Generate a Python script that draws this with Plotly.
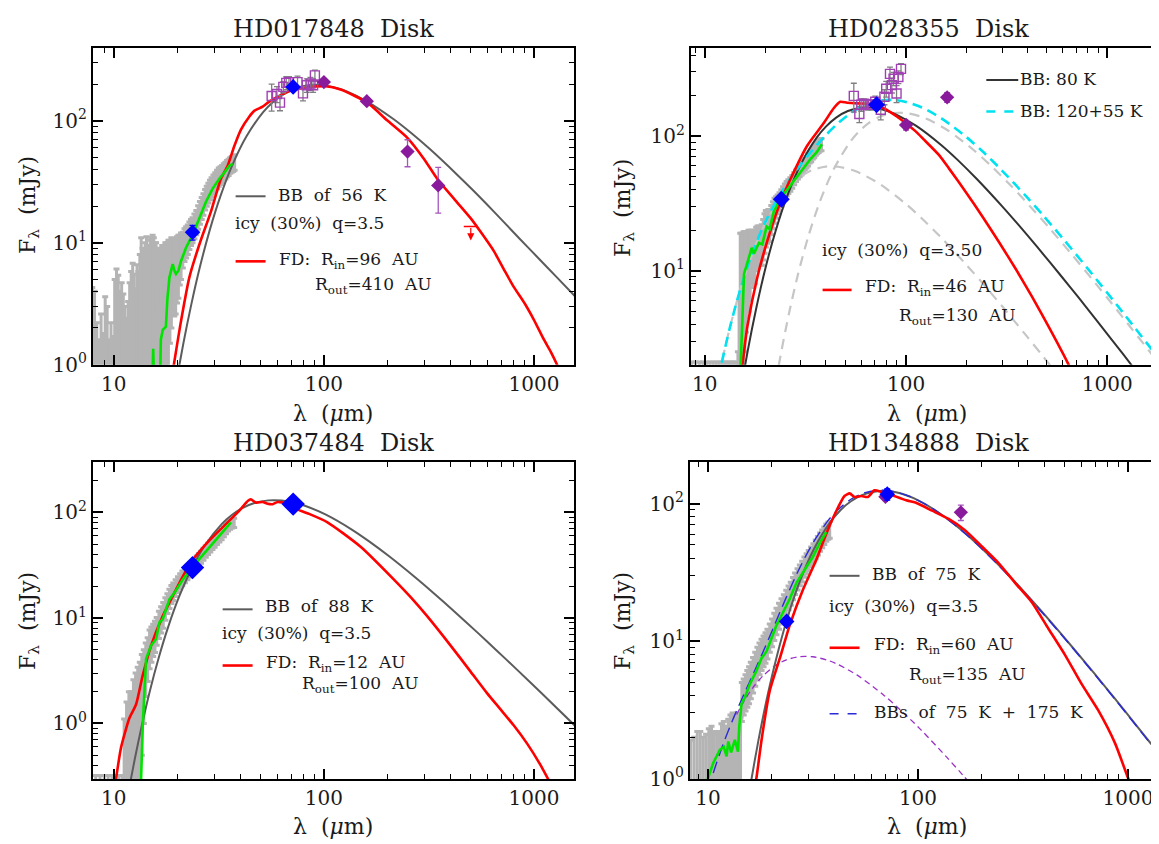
import numpy as np
import plotly.graph_objects as go

W, H = 1159, 844
FONT = "DejaVu Serif"
TXT = "#1a1a1a"

# ======================= DATA =======================
# ---------- HD017848 ----------
p1_irs_lam = [7.9, 8.1, 8.3, 8.5, 8.7, 8.9, 9.1, 9.3, 9.5, 9.7, 9.9, 10.1, 10.3, 10.5, 10.7, 10.9, 11.1, 11.3, 11.5, 11.7,
              11.9, 12.1, 12.3, 12.5, 12.7, 12.9, 13.1, 13.3, 13.5, 13.7, 13.9, 14.1, 14.3, 14.5, 14.7, 14.9, 15.1, 15.3, 15.5, 15.7, 15.9,
              16.1, 16.4, 16.7, 17.0, 17.3, 17.6, 17.9, 18.2, 18.5, 18.8, 19.1, 19.4, 19.7, 20.0, 20.3, 20.6, 20.9, 21.3, 21.7, 22.1,
              22.5, 22.9, 23.3, 23.7, 24.2, 24.7, 25.2, 25.7, 26.2, 26.7, 27.2, 27.7, 28.2, 28.7, 29.2, 29.8, 30.4, 31.0, 31.6, 32.2,
              32.8, 33.4, 34.0, 34.6, 35.2, 35.8, 36.4, 37.0, 37.6]
p1_irs_flux = [0.6, 0.6, 0.6, 0.6, 0.6, 0.6, 0.6, 0.6, 0.6, 0.6, 0.6, 0.6, 0.6, 0.6, 0.6, 0.6, 0.6, 0.6, 0.6, 0.6,
               0.6, 0.6, 0.6, 0.6, 0.6, 0.6, 0.6, 0.6, 0.6, 0.6, 0.6, 0.6, 0.6, 0.6, 0.6, 0.6, 0.6, 0.6, 0.6, 0.6, 0.6,
               3.0, 3.5, 3.8, 4.0, 4.2, 4.5, 5.0, 5.5, 6.0, 6.5, 6.8, 6.5, 6.6, 7.2, 7.5, 8.0, 8.5, 9.2, 10.0, 10.5,
               11.0, 11.8, 12.5, 13.0, 14.0, 15.0, 16.5, 18.0, 19.5, 21.0, 23.0, 24.5, 26.0, 27.5, 29.0, 30.5, 32.0, 33.5, 35.0, 36.0,
               37.0, 38.5, 39.5, 41.0, 42.0, 43.5, 44.5, 45.0, 46.0]
p1_irs_err = [3.7, 3.4, 1.6, 1.0, 2.0, 1.2, 3.0, 2.4, 1.0, 1.6, 1.1, 4.4, 5.5, 4.8, 3.4, 4.1, 3.2, 2.4, 1.8, 2.7,
              4.1, 5.2, 6.2, 4.9, 3.6, 6.0, 5.2, 7.4, 10.4, 8.4, 6.9, 9.4, 10.6, 8.9, 7.4, 9.9, 10.4, 10.9, 10.4, 9.4, 9.4,
              5.5, 5.5, 5.0, 5.5, 5.0, 5.5, 5.0, 5.0, 4.5, 4.5, 4.0, 4.0, 4.0, 4.0, 4.0, 3.5, 3.5, 3.0, 3.0, 3.0,
              3.0, 3.0, 3.0, 3.0, 3.2, 3.4, 3.6, 3.8, 4.0, 4.2, 4.4, 4.6, 4.8, 5.0, 5.2, 5.4, 5.6, 5.8, 6.0, 6.0,
              6.0, 6.0, 6.2, 6.2, 6.4, 6.4, 6.6, 6.6, 6.6]
p1_green_lam = [15.25, 15.4, 15.55, 16.6, 16.75, 17.1, 17.7, 18.0, 18.4, 19.07, 19.5, 19.78, 20.3, 20.9, 22.07, 23.74, 25.54,
                27.46, 29.54, 31.8, 34.2, 35.5, 36.8]
p1_green_flux = [0.7, 1.35, 0.7, 0.7, 1.6, 1.93, 2.05, 3.5, 5.2, 6.67, 5.8, 5.53, 5.89, 7.08, 9.1, 11.65, 15.9,
                 21.7, 27.8, 33.5, 39.1, 42.9, 44.3]
p1_bb_lam = [18.35, 19.76, 21.41, 23.36, 25.69, 28.55, 32.12, 36.70, 42.82, 51.39, 57.10, 64.23, 73.41, 85.64, 98.82, 116.8,
             128.5, 160.6, 214.1, 256.9, 321.2, 428.2, 513.9, 642.3, 856.4, 1027.7, 1284.7, 1712.9]
p1_bb_flux = [0.317, 0.690, 1.476, 3.09, 6.31, 12.51, 23.88, 43.5, 74.6, 117.9, 142.3, 166.0, 185.6, 196.6, 196.0, 184.4,
              174.0, 144.0, 103.5, 80.9, 58.1, 36.5, 26.8, 18.09, 10.73, 7.75, 5.2, 3.1]
p1_fd_lam = [19.0, 19.29, 20.67, 22.89, 25.54, 29.0, 32.36, 34.83, 37.47, 40.3, 44.2, 46.6, 51.1, 55.0, 61.3, 70.9, 82.0, 102.0,
             120.0, 161.0, 200.0, 249.6, 300.0, 346.0, 420.0, 499.0, 570.0, 644.0, 720.0, 802.0, 900.0, 1000.0, 1115.0, 1200.0,
             1289.0, 1350.0]
p1_fd_flux = [0.85, 0.986, 2.05, 5.2, 9.67, 18.0, 33.5, 42.9, 62.2, 84.8, 108.7, 120.8, 131.0, 144.0, 160.0, 179.0, 187.5, 192.5,
              181.0, 141.0, 101.0, 72.6, 48.5, 33.5, 22.5, 15.9, 11.6, 8.53, 6.0, 4.32, 3.2, 2.32, 1.6, 1.28, 0.99, 0.8]
p1_pacs_lam = [56.4, 59.8, 61.8, 64.1, 66.2, 68.2, 74.9, 79.5, 82.9, 86.3, 88.8, 90.6]
p1_pacs_flux = [160, 166, 141, 190, 205, 208, 208, 168, 196, 202, 196, 236]
p1_pacs_err = [40, 25, 20, 20, 25, 22, 25, 22, 25, 25, 25, 25]
p1_mips_lam = [23.7, 71.4]
p1_mips_flux = [12.2, 190]
p1_mips_err = [1.7, 10]
p1_phot_lam = [100, 160, 250, 350]
p1_phot_flux = [208, 145, 56, 29.5]
p1_phot_err = [8, 7, 14, 12]
p1_ul_lam = [500]
p1_ul_flux = [13.6]

# ---------- HD028355 ----------
p2_irs_lam = [8.6, 9.0, 9.4, 9.8, 10.2, 10.6, 11.0, 11.4, 11.8, 12.2, 12.6, 13.0, 13.4, 13.8, 14.2,
              14.6, 14.8, 15.0, 15.2, 15.4, 15.6, 15.8, 16.0, 16.2, 16.5, 16.8, 17.1, 17.4, 17.7, 18.0, 18.3, 18.6, 18.9, 19.2, 19.5,
              19.8, 20.1, 20.4, 20.7, 21.0, 21.4, 21.8, 22.2, 22.6, 23.0, 23.5, 24.0, 24.5, 25.0, 25.5, 26.0, 26.6, 27.2, 27.8, 28.4,
              29.0, 29.6, 30.2, 30.8, 31.4, 32.0, 32.6, 33.2, 33.8, 34.4, 35.0, 35.6, 36.2, 36.8, 37.4, 38.0]
p2_irs_flux = [1.0, 1.0, 1.0, 1.0, 1.0, 1.0, 1.0, 1.0, 1.0, 1.0, 1.0, 1.0, 1.0, 1.0, 1.0,
               1.5, 3, 8, 9, 9.5, 10, 11, 11.5, 12, 12.5, 13, 14, 13.5, 14, 15.5, 16, 16.5, 16, 16.5, 18,
               20, 21.5, 22, 22.5, 22.5, 24.5, 26.5, 28.5, 30, 31.5, 33, 35, 37, 39, 41, 42.5, 44, 46, 48.5, 51,
               53, 55, 57, 59.5, 62, 64.5, 67, 70, 72, 75, 77, 80, 82, 84, 86, 87]
p2_irs_err = [1.1, 1.1, 1.1, 1.1, 1.1, 1.1, 1.1, 1.1, 1.1, 1.1, 1.1, 1.1, 1.1, 1.1, 1.1,
              1.0, 3, 11, 10, 9.5, 9.5, 8.5, 8, 7.5, 7.5, 7, 6, 6, 6, 5.5, 5.5, 5, 5, 5.5, 6,
              6.5, 6.5, 6, 6, 6, 6, 6, 6, 5.5, 5, 5, 5, 5, 5, 5, 5, 5, 5, 5, 5,
              5, 5, 5.5, 6, 6, 6.5, 7, 7, 7.5, 7.5, 8, 8, 8, 8.5, 8.5, 9]
p2_green_lam = [14.9, 15.07, 15.37, 15.66, 16.56, 17.09, 17.54, 18.57, 19.3, 20.28, 21.0, 22.0, 23.8, 26.7, 29.9, 33.5, 36.0, 38.2]
p2_green_flux = [1.5, 2.0, 4.3, 9.46, 12.5, 14.8, 13.4, 16.1, 15.7, 21.3, 20.4, 27.5, 34.4, 43.1, 53.9, 67.5, 76.0, 87.0]
p2_bb80_lam = [12.85, 13.83, 14.99, 16.35, 17.99, 19.98, 22.48, 25.69, 29.98, 35.97, 39.97, 44.96, 51.39, 59.95, 69.17, 81.75,
               89.93, 112.4, 149.9, 179.85, 224.8, 299.8, 359.7, 449.6, 599.5, 719.4, 899.3, 1199.0, 1798.5]
p2_bb80_flux = [0.262, 0.571, 1.221, 2.556, 5.22, 10.35, 19.76, 36.0, 61.7, 97.5, 117.7, 137.3, 153.5, 162.7, 162.2, 152.6,
                144.0, 119.2, 85.65, 66.9, 48.0, 30.2, 22.16, 14.96, 8.87, 6.33, 4.155, 2.398, 1.093]
p2_bb55_lam = [21.8, 23.78, 26.16, 29.07, 32.70, 37.37, 43.6, 52.32, 58.13, 65.4, 74.74, 87.2, 100.6, 118.9, 130.8, 163.5,
               218.0, 261.6, 327.0, 436.0, 523.2, 654.0, 872.0, 1046.0, 1308.0, 1744.0, 2616.0]
p2_bb55_flux = [1.115, 2.334, 4.767, 9.448, 18.04, 32.87, 56.36, 89.04, 107.5, 125.4, 140.2, 148.5, 148.1, 139.3, 131.5, 108.8,
                78.2, 61.1, 43.87, 27.59, 20.23, 13.66, 8.10, 5.78, 3.79, 2.19, 1.0]
p2_bb120_lam = [10.9, 11.99, 13.32, 14.99, 17.13, 19.98, 23.98, 26.64, 29.98, 34.26, 39.97, 46.12, 54.5, 59.95, 74.94, 99.92,
                119.9, 149.9, 199.8, 239.8, 299.8, 399.7, 479.6, 599.5]
p2_bb120_flux = [0.934, 1.907, 3.779, 7.216, 13.15, 22.54, 35.61, 43.0, 50.15, 56.07, 59.42, 59.23, 55.73, 52.59, 43.52, 31.28,
                 24.44, 17.55, 11.03, 8.09, 5.465, 3.241, 2.311, 1.517]
p2_bbsum_lam = [10.9, 11.99, 13.32, 14.99, 17.13, 19.98, 23.98, 26.64, 29.98, 34.26, 39.97, 46.12, 54.5, 59.95, 74.94, 87.0,
                99.92, 119.9, 149.9, 199.8, 239.8, 299.8, 399.7, 479.6, 599.5, 799.5, 1199.0, 1799.0, 2398.0]
p2_bbsum_flux = [0.934, 1.907, 3.781, 7.23, 13.24, 23.03, 38.1, 48.4, 61.5, 78.65, 101.8, 125.4, 152.0, 165.1, 183.9, 185.5,
                 179.5, 163.2, 135.6, 98.2, 77.1, 55.5, 35.1, 25.8, 17.47, 10.38, 4.87, 2.24, 1.285]
p2_fd_lam = [15.0, 15.37, 16.27, 18.24, 20.43, 23.8, 26.7, 32.2, 39.0, 43.7, 47.1, 50.9, 57.1, 65.0, 72.0, 77.3, 90.0, 100.0,
             112.0, 122.0, 147.0, 164.0, 198.0, 240.0, 290.0, 351.0, 424.0, 512.0, 638.0, 700.0]
p2_fd_flux = [1.6, 2.0, 3.85, 8.95, 16.6, 32.5, 48.2, 84.5, 125.0, 161.0, 180.0, 177.0, 175.0, 174.0, 168.0, 161.0, 140.0, 124.0,
              108.0, 95.0, 71.4, 57.1, 38.5, 25.2, 16.3, 10.3, 6.37, 3.83, 2.05, 1.5]
p2_pacs_lam = [55.0, 58.6, 59.9, 61.9, 64.5, 67.3, 70.3, 74.9, 78.1, 79.7, 83.2, 85.0, 86.7, 89.7, 91.6, 94.4]
p2_pacs_flux = [199, 146, 171, 174, 171, 171, 180, 157, 196, 225, 290, 239, 267, 207, 275, 316]
p2_pacs_err = [48, 20, 18, 15, 15, 15, 18, 25, 25, 30, 35, 30, 30, 30, 30, 30]
p2_mips_lam = [24.0, 71.4]
p2_mips_flux = [34.0, 171]
p2_mips_err = [2, 8]
p2_phot_lam = [100, 160]
p2_phot_flux = [121, 194]
p2_phot_err = [10, 16]

# ---------- HD037484 ----------
p3_irs_lam = [8.2, 8.6, 9.0, 9.4, 9.8, 10.2, 10.6, 11.0,
              11.2, 11.5, 11.8, 12.1, 12.4, 12.7, 13.0, 13.3, 13.6, 13.9, 14.2, 14.5, 14.8, 15.1, 15.4, 15.7, 16.0, 16.4, 16.8, 17.2,
              17.6, 18.0, 18.4, 18.8, 19.2, 19.7, 20.2, 20.7, 21.2, 21.8, 22.4, 23.0, 23.6, 24.2, 24.8, 25.4, 26.0, 26.7, 27.4, 28.1,
              28.8, 29.5, 30.2, 31.0, 31.8, 32.6, 33.4, 34.2, 35.0, 35.8, 36.6, 37.4]
p3_irs_flux = [0.15, 0.15, 0.15, 0.15, 0.15, 0.15, 0.15, 0.15,
               0.5, 0.7, 0.9, 1.0, 1.2, 1.4, 1.6, 1.8, 2.5, 3.0, 3.8, 4.5, 5.5, 6.0, 6.5, 7.0, 7.8, 9.0, 10.0, 11.0,
               12.5, 14.0, 15.5, 17.0, 18.0, 19.5, 21.0, 22.5, 24.0, 25.5, 27.0, 28.5, 30.0, 32.0, 34.0, 36.0, 38.0, 40.5, 43.0, 45.5,
               48.0, 50.5, 53.0, 56.0, 59.0, 62.0, 66.0, 70.0, 74.0, 77.0, 79.0, 80.0]
p3_irs_err = [0.17, 0.17, 0.17, 0.17, 0.17, 0.17, 0.17, 0.17,
              0.6, 0.9, 1.1, 1.0, 1.4, 1.6, 1.8, 2.0, 2.0, 2.0, 2.0, 2.0, 2.2, 2.2, 2.2, 2.3, 2.3, 2.6, 2.8, 3.0,
              3.0, 3.0, 3.2, 3.3, 3.4, 3.5, 3.6, 3.7, 3.8, 3.9, 4.0, 4.1, 4.2, 4.4, 4.6, 4.8, 5.0, 5.2, 5.4, 5.6,
              5.8, 6.0, 6.2, 6.4, 6.6, 6.8, 7.0, 7.2, 7.4, 7.6, 7.8, 8.0]
p3_green_lam = [13.4, 13.49, 13.74, 14.0, 14.25, 15.05, 15.9, 16.49, 17.1, 18.39, 19.43, 21.28, 23.74, 26.5, 29.54, 32.96, 36.1]
p3_green_flux = [0.25, 0.3, 0.98, 2.0, 4.11, 5.47, 6.32, 9.06, 9.72, 15.0, 17.3, 23.0, 30.6, 39.4, 50.7, 65.0, 80.7]
p3_bb_lam = [10.9, 11.68, 12.58, 13.63, 14.86, 16.35, 18.17, 20.44, 23.36, 27.25, 32.7, 36.33, 40.88, 46.71, 54.5, 62.88,
             74.32, 81.75, 102.2, 136.3, 163.5, 204.4, 272.5, 327.0, 408.8, 545.0, 654.0, 817.5, 1090.0, 1635.0]
p3_bb_flux = [0.095, 0.21, 0.457, 0.977, 2.045, 4.177, 8.278, 15.81, 28.8, 49.38, 78.01, 94.18, 109.9, 122.8, 130.2, 129.7,
              122.1, 115.2, 95.3, 68.5, 53.5, 38.4, 24.17, 17.73, 11.97, 7.10, 5.06, 3.324, 1.919, 0.875]
p3_fd_lam = [10.0, 10.25, 10.83, 11.88, 12.76, 13.74, 15.05, 17.1, 19.07, 21.28, 23.74, 28.5, 34.2, 39.6, 43.4, 44.9, 47.5,
             51.1, 54.0, 57.0, 60.2, 65.9, 70.9, 85.0, 104.0, 150.0, 216.0, 260.0, 310.0, 401.0, 499.0, 596.0, 688.0, 800.0,
             929.0, 1076.0, 1164.0, 1200.0]
p3_fd_flux = [0.22, 0.3, 0.593, 1.13, 1.51, 2.87, 5.47, 10.4, 16.1, 24.7, 35.4, 54.3, 77.9, 104.0, 128.6, 133.0, 124.0,
              125.7, 121.0, 119.8, 125.7, 122.0, 111.0, 97.0, 80.7, 47.1, 23.0, 15.6, 10.4, 5.47, 3.1, 1.95, 1.38, 0.96,
              0.64, 0.40, 0.30, 0.27]
p3_mips_lam = [23.7, 71.4]
p3_mips_flux = [30, 120]

# ---------- HD134888 ----------
p4_irs_lam = [8.3, 8.6, 8.9, 9.2, 9.5, 9.8, 10.1, 10.4, 10.7, 11.0, 11.3, 11.6, 11.9, 12.2, 12.5, 12.8, 13.1, 13.4, 13.7, 14.0, 14.3,
              14.5, 14.8, 15.1, 15.4, 15.7, 16.0, 16.4, 16.8, 17.2, 17.6, 18.0, 18.4, 18.8, 19.2, 19.7, 20.2, 20.7, 21.2, 21.8, 22.4,
              23.0, 23.6, 24.2, 24.8, 25.4, 26.0, 26.7, 27.4, 28.1, 28.8, 29.5, 30.2, 31.0, 31.8, 32.6, 33.4, 34.2, 35.0, 35.8, 36.6,
              37.4, 38.0]
p4_irs_flux = [1.0, 1.0, 1.0, 1.0, 1.0, 1.0, 1.0, 1.0, 1.0, 1.0, 1.0, 1.0, 1.0, 1.0, 1.0, 1.0, 1.0, 1.0, 1.0, 1.0, 1.0,
               3.8, 4.1, 4.4, 4.7, 5.0, 5.4, 5.9, 6.5, 7.1, 7.7, 8.2, 8.7, 9.2, 9.8, 10.8, 11.8, 13.0, 14.2, 15.5, 16.8,
               18.0, 19.5, 21.0, 22.5, 24.5, 26.5, 28.5, 30.5, 32.5, 35.0, 37.0, 39.0, 41.5, 44.0, 47.0, 50.0, 53.0, 56.0, 59.0, 62.0,
               64.0, 65.0]
p4_irs_err = [0.9, 1.0, 1.2, 1.2, 1.0, 1.1, 1.3, 1.4, 1.2, 1.1, 1.2, 1.5, 1.6, 1.4, 1.7, 1.9, 2.0, 1.8, 2.0, 1.9, 1.8,
              1.2, 1.2, 1.3, 1.4, 1.5, 1.6, 1.7, 1.8, 1.9, 2.0, 2.1, 2.2, 2.3, 2.4, 2.5, 2.7, 2.9, 3.1, 3.3, 3.5,
              3.7, 3.9, 4.1, 4.3, 4.5, 4.7, 5.0, 5.3, 5.6, 5.9, 6.2, 6.5, 6.8, 7.1, 7.4, 7.7, 8.0, 8.3, 8.6, 8.9,
              9.0, 9.0]
p4_green_lam = [9.9, 10.0, 10.6, 11.4, 11.9, 12.27, 12.5, 12.9, 13.43, 13.9, 14.1, 14.45, 15.0, 15.83, 17.0, 18.0, 19.0, 20.07,
                21.2, 22.8, 24.5, 26.4, 28.9, 31.65, 34.0, 36.6]
p4_green_flux = [0.9, 1.0, 1.3, 1.62, 1.7, 1.45, 1.86, 1.55, 1.91, 1.57, 2.4, 3.49, 3.9, 4.86, 6.05, 7.5, 8.4, 10.4,
                 13.0, 16.2, 20.2, 26.5, 33.0, 41.1, 51.3, 62.1]
p4_bb_lam = [13.70, 14.76, 15.99, 17.44, 19.18, 21.32, 23.98, 27.41, 31.97, 38.37, 42.63, 47.96, 54.81, 63.95, 73.78, 87.2,
             95.92, 119.9, 159.9, 191.84, 239.8, 319.7, 383.7, 479.6, 639.5, 767.4, 959.2, 1279.0, 1918.0]
p4_bb_flux = [0.1985, 0.432, 0.924, 1.934, 3.95, 7.83, 14.95, 27.24, 46.7, 73.8, 89.1, 103.9, 116.1, 123.1, 122.7, 115.4,
              108.9, 90.1, 64.8, 50.6, 36.35, 22.86, 16.76, 11.32, 6.71, 4.787, 3.143, 1.814, 0.827]
p4_bbhot_lam = [13.70, 14.95, 16.44, 18.27, 20.56, 23.49, 27.41, 31.62, 37.37, 41.11, 51.39, 68.52, 82.22, 102.8, 137.0, 164.4, 205.6]
p4_bbhot_flux = [2.925, 3.72, 4.62, 5.58, 6.51, 7.28, 7.71, 7.69, 7.23, 6.82, 5.65, 4.06, 3.17, 2.28, 1.432, 1.05, 0.709]
p4_bbsum_lam = [9.5, 10.3, 11.0, 12.0, 13.0, 14.0, 15.0, 16.44, 18.27, 20.56, 23.49, 27.41, 31.62, 37.37, 41.11, 47.96, 54.81,
                63.95, 73.78, 87.2, 102.8, 119.9, 159.9, 191.84, 239.8, 319.7, 479.6, 767.4, 1279.0, 1918.0]
p4_bbsum_flux = [0.616, 0.95, 1.305, 1.894, 2.58, 3.36, 4.25, 5.78, 8.29, 12.63, 20.43, 34.3, 51.7, 75.4, 88.7, 107.5, 118.8,
                 124.7, 123.6, 115.7, 103.4, 89.9, 64.4, 50.3, 36.05, 22.65, 11.21, 4.74, 1.795, 0.818]
p4_fd_lam = [16.5, 17.0, 18.0, 19.7, 22.0, 24.5, 28.4, 32.8, 36.6, 40.9, 44.7, 47.3, 49.9, 53.7, 57.8, 62.1, 66.8, 73.2, 87.9,
             97.3, 116.8, 140.0, 168.0, 202.0, 242.0, 290.0, 349.0, 418.0, 501.0, 602.0, 722.0, 867.0, 1003.0, 1050.0]
p4_fd_flux = [0.8, 1.0, 1.91, 4.35, 7.5, 13.0, 23.8, 39.0, 60.4, 88.7, 113.5, 118.6, 111.6, 113.5, 111.6, 124.7, 121.8, 116.7,
              105.7, 101.6, 88.7, 77.3, 63.8, 48.5, 36.9, 26.5, 19.1, 12.3, 7.94, 4.86, 3.13, 1.81, 1.0, 0.85]
p4_mips_lam = [23.7, 71.4]
p4_mips_flux = [13.9, 117]
p4_mips_err = [0.8, 11]
p4_phot_lam = [70, 160]
p4_phot_flux = [112, 86.3]
p4_phot_err = [6, 11]

# tick labels
xtick_vals = [10, 100, 1000]
xtick_text = ["10", "100", "1000"]
ytick_vals = [1, 10, 100]
ytick_text = ["10<sup>0</sup>", "10<sup>1</sup>", "10<sup>2</sup>"]

# ======================= STYLE =======================
C_IRS = "#b4b4b4"
C_BB = "#5c5c5c"
C_BBD = "#333333"
C_RED = "#ff0000"
C_GREEN = "#00e400"
C_BLUE = "#0000ff"
C_PURP = "#8a1a9c"
C_PURP_E = "#a556bd"
C_SQ = "#a040b4"
C_CYAN = "#00e2f0"
C_LGREY = "#c6c6c6"
C_PDASH = "#9a30c6"
C_BDASH = "#2a2ad8"

fig = go.Figure()

def ax_names(i):
    return ("x" if i == 1 else f"x{i}"), ("y" if i == 1 else f"y{i}")

def irs(i, lam, flux, err):
    xa, ya = ax_names(i)
    em = [min(e, f * 0.98) for f, e in zip(flux, err)]
    fig.add_trace(go.Scatter(x=lam, y=flux, mode="markers", xaxis=xa, yaxis=ya,
                             marker=dict(size=2, color=C_IRS),
                             error_y=dict(type="data", array=err, arrayminus=em, color=C_IRS,
                                          thickness=3, width=3),
                             showlegend=False, hoverinfo="skip"))

def line(i, lam, flux, color, width, dash="solid", shape="spline", smooth=0.8):
    xa, ya = ax_names(i)
    ln = dict(color=color, width=width, dash=dash, shape=shape)
    if shape == "spline":
        ln["smoothing"] = smooth
    fig.add_trace(go.Scatter(x=lam, y=flux, mode="lines", xaxis=xa, yaxis=ya, line=ln,
                             showlegend=False, hoverinfo="skip"))

def points(i, lam, flux, err, color, ecolor, symbol, size, lw=0, ewidth=3):
    xa, ya = ax_names(i)
    kw = {}
    if err is not None:
        kw["error_y"] = dict(type="data", array=err, color=ecolor, thickness=1.3, width=ewidth)
    fig.add_trace(go.Scatter(x=lam, y=flux, mode="markers", xaxis=xa, yaxis=ya,
                             marker=dict(symbol=symbol, size=size, color=color,
                                         line=dict(width=lw, color=color)),
                             showlegend=False, hoverinfo="skip", **kw))

# ---- panel 1
irs(1, p1_irs_lam, p1_irs_flux, p1_irs_err)
line(1, p1_bb_lam, p1_bb_flux, C_BB, 2)
line(1, p1_fd_lam, p1_fd_flux, C_RED, 2.6, smooth=0.6)
line(1, p1_green_lam, p1_green_flux, C_GREEN, 2.6, shape="linear")
points(1, p1_pacs_lam, p1_pacs_flux, p1_pacs_err, C_SQ, "#808080", "square-open", 9, lw=1.4)
points(1, p1_phot_lam, p1_phot_flux, p1_phot_err, C_PURP, C_PURP_E, "diamond", 11)
points(1, p1_mips_lam, p1_mips_flux, p1_mips_err, C_BLUE, C_BLUE, "diamond", 12)
points(1, p1_ul_lam, p1_ul_flux, None, C_RED, C_RED, "line-ew", 10, lw=1.5)

# ---- panel 2
irs(2, p2_irs_lam, p2_irs_flux, p2_irs_err)
line(2, p2_bb55_lam, p2_bb55_flux, C_LGREY, 2.2, dash="10px,7px")
line(2, p2_bb120_lam, p2_bb120_flux, C_LGREY, 2.2, dash="10px,7px")
line(2, p2_bb80_lam, p2_bb80_flux, C_BBD, 2)
line(2, p2_bbsum_lam, p2_bbsum_flux, C_CYAN, 2.6, dash="10px,6px")
line(2, p2_fd_lam, p2_fd_flux, C_RED, 2.6, smooth=0.6)
line(2, p2_green_lam, p2_green_flux, C_GREEN, 2.6, shape="linear")
points(2, p2_pacs_lam, p2_pacs_flux, p2_pacs_err, C_SQ, "#808080", "square-open", 9, lw=1.4)
points(2, p2_phot_lam, p2_phot_flux, p2_phot_err, C_PURP, C_PURP_E, "diamond", 11)
points(2, p2_mips_lam, p2_mips_flux, p2_mips_err, C_BLUE, C_BLUE, "diamond", 13)

# ---- panel 3
irs(3, p3_irs_lam, p3_irs_flux, p3_irs_err)
line(3, p3_bb_lam, p3_bb_flux, C_BB, 2)
line(3, p3_fd_lam, p3_fd_flux, C_RED, 2.6, smooth=0.6)
line(3, p3_green_lam, p3_green_flux, C_GREEN, 2.6, shape="linear")
points(3, p3_mips_lam, p3_mips_flux, None, C_BLUE, C_BLUE, "diamond", 18)

# ---- panel 4
irs(4, p4_irs_lam, p4_irs_flux, p4_irs_err)
line(4, p4_bbhot_lam, p4_bbhot_flux, C_PDASH, 1.3, dash="6px,4px")
line(4, p4_bb_lam, p4_bb_flux, C_BB, 2)
line(4, p4_bbsum_lam, p4_bbsum_flux, C_BDASH, 1.4, dash="12px,6px")
line(4, p4_fd_lam, p4_fd_flux, C_RED, 2.6, smooth=0.6)
line(4, p4_green_lam, p4_green_flux, C_GREEN, 2.6, shape="linear")
points(4, p4_phot_lam, p4_phot_flux, p4_phot_err, C_PURP, C_PURP_E, "diamond", 11)
points(4, p4_mips_lam, p4_mips_flux, p4_mips_err, C_BLUE, C_BLUE, "diamond", 12)

# ======================= AXES =======================
def minor_list(lo, hi):
    out = []
    for k in range(-2, 5):
        for m in range(2, 10):
            v = m * 10 ** k
            if lo <= v <= hi:
                out.append(v)
    return out

panels = [
    dict(xd=[85 / W, 567 / W], yd=[1 - 362 / H, 1 - 41 / H], xr=(7.95, 1550), yr=(0.995, 393)),
    dict(xd=[684 / W, 1.0], yd=[1 - 362 / H, 1 - 41 / H], xr=(8.52, 1936), yr=(2.0, 448)),
    dict(xd=[85 / W, 567 / W], yd=[1 - 782 / H, 1 - 461 / H], xr=(7.95, 1550), yr=(0.298, 298)),
    dict(xd=[683 / W, 1.0], yd=[1 - 782 / H, 1 - 461 / H], xr=(8.2, 1500), yr=(0.995, 199)),
]

lay = {}
for i, p in enumerate(panels, start=1):
    xk = "xaxis" if i == 1 else f"xaxis{i}"
    yk = "yaxis" if i == 1 else f"yaxis{i}"
    ya = "y" if i == 1 else f"y{i}"
    xa = "x" if i == 1 else f"x{i}"
    common = dict(type="log", showline=True, linewidth=2, linecolor="black", mirror="ticks",
                  ticks="inside", ticklen=10, tickwidth=1.5, tickcolor="black",
                  showgrid=False, zeroline=False,
                  tickfont=dict(family=FONT, size=20, color=TXT))
    lay[xk] = dict(common, domain=p["xd"], anchor=ya,
                   range=[np.log10(p["xr"][0]), np.log10(p["xr"][1])],
                   tickmode="array", tickvals=xtick_vals, ticktext=xtick_text,
                   minor=dict(tickmode="array", tickvals=minor_list(*p["xr"]), ticks="inside",
                              ticklen=5, tickwidth=1.2, tickcolor="black", showgrid=False))
    lay[yk] = dict(common, domain=p["yd"], anchor=xa,
                   range=[np.log10(p["yr"][0]), np.log10(p["yr"][1])],
                   tickmode="array", tickvals=ytick_vals, ticktext=ytick_text,
                   minor=dict(tickmode="array", tickvals=minor_list(*p["yr"]), ticks="inside",
                              ticklen=5, tickwidth=1.2, tickcolor="black", showgrid=False))

# ======================= TEXT =======================
ann = []
shapes = []
S = "\u00a0\u00a0"
S1 = "\u00a0"

def txt(xp, yp, text, size=17, xanchor="left", angle=0):
    if xanchor == "left":
        xp -= 3
    ann.append(dict(x=xp / W, y=1 - yp / H, xref="paper", yref="paper", text=text, showarrow=False,
                    xanchor=xanchor, yanchor="middle", textangle=angle,
                    font=dict(family=FONT, size=size, color=TXT)))

def seg(x0, x1, yp, color, width, dash="solid"):
    shapes.append(dict(type="line", xref="paper", yref="paper", x0=x0 / W, x1=x1 / W,
                       y0=1 - yp / H, y1=1 - yp / H, line=dict(color=color, width=width, dash=dash)))

# titles
txt(326, 21, f"HD017848{S}Disk", 24, "center")
txt(922, 21, f"HD028355{S}Disk", 24, "center")
txt(326, 441, f"HD037484{S}Disk", 24, "center")
txt(922, 441, f"HD134888{S}Disk", 24, "center")
# axis titles
lam_title = f"λ{S}(<i>μ</i>m)"
f_title = f"F<sub>λ</sub>{S}(mJy)"
for xc, yb in [(326, 411), (921, 411), (326, 830), (921, 830)]:
    txt(xc, yb, lam_title, 22, "center")
for xc, yc in [(21, 200), (617, 203), (21, 622), (617, 622)]:
    txt(xc, yc, f_title, 22, "center", angle=-90)

# panel 1 legend
seg(228, 258, 191, C_BB, 2)
txt(271, 190, f"BB{S}of{S}56{S}K")
txt(228, 218, f"icy{S}(30%){S}q=3.5")
seg(228, 258, 257, C_RED, 2.6)
txt(272, 256, f"FD:{S}R<sub>in</sub>=96{S}AU")
txt(309, 281, f"R<sub>out</sub>=410{S}AU")
# panel 2 legend
seg(980, 1012, 73, C_BBD, 2)
txt(1015, 72, f"BB:{S1}80{S1}K")
seg(980, 1012, 105, C_CYAN, 2.6, "dash")
txt(1015, 104, f"BB:{S1}120+55{S1}K")
txt(816, 245, f"icy{S}(30%){S}q=3.50")
seg(816, 845, 286, C_RED, 2.6)
txt(859, 284, f"FD:{S}R<sub>in</sub>=46{S}AU")
txt(894, 313, f"R<sub>out</sub>=130{S}AU")
# panel 3 legend
seg(215, 245, 610, C_BB, 2)
txt(258, 607, f"BB{S}of{S}88{S}K")
txt(215, 634, f"icy{S}(30%){S}q=3.5")
seg(215, 245, 667, C_RED, 2.6)
txt(259, 665, f"FD:{S}R<sub>in</sub>=12{S}AU")
txt(296, 686, f"R<sub>out</sub>=100{S}AU")
# panel 4 legend
seg(823, 853, 576, C_BB, 2)
txt(866, 574, f"BB{S}of{S}75{S}K")
txt(823, 607, f"icy{S}(30%){S}q=3.5")
seg(823, 853, 649, C_RED, 2.6)
txt(868, 647, f"FD:{S}R<sub>in</sub>=60{S}AU")
txt(904, 677, f"R<sub>out</sub>=135{S}AU")
seg(823, 853, 716, C_BDASH, 1.4, "dash")
txt(868, 714, f"BBs{S}of{S}75{S}K{S}+{S}175{S}K")

# upper limit arrow (panel 1)
ann.append(dict(x=np.log10(p1_ul_lam[0]), y=np.log10(p1_ul_flux[0]), xref="x", yref="y",
                ax=0, ay=-14, yshift=-14, showarrow=True, arrowhead=2, arrowsize=1.2,
                arrowwidth=1.2, arrowcolor=C_RED, text=""))

fig.update_layout(width=W, height=H, margin=dict(l=0, r=0, t=0, b=0),
                  paper_bgcolor="white", plot_bgcolor="white", showlegend=False,
                  hovermode=False, annotations=ann, shapes=shapes, **lay)

fig.write_html("out.html")
